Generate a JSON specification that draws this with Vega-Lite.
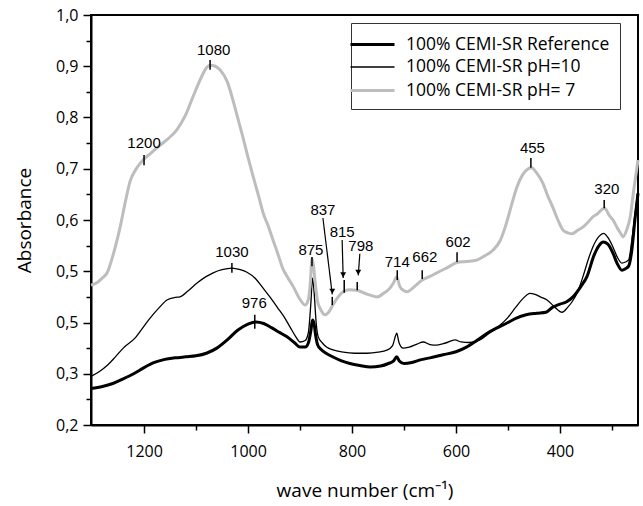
{
  "$schema": "https://vega.github.io/schema/vega-lite/v6.json",
  "width": 547,
  "height": 410,
  "autosize": {"type": "none"},
  "padding": {"left": 91, "top": 15, "right": 5, "bottom": 81},
  "background": "white",
  "config": {
    "view": {"stroke": "black", "strokeWidth": 2},
    "axis": {"grid": false, "domainColor": "black", "domainWidth": 2, "tickColor": "black", "tickWidth": 1.5, "labelColor": "black", "titleColor": "black", "labelFont": "Open Sans", "titleFont": "Open Sans", "labelFontSize": 16, "titleFontSize": 19, "titleFontWeight": "normal"},
    "legend": {"symbolType": "M-2.2,0H2.2", "symbolSize": 400, "labelFont": "Open Sans", "labelFontSize": 17.5, "labelColor": "black", "strokeColor": "#333333", "padding": 10, "rowPadding": 3, "labelOffset": 22, "labelLimit": 400, "fillColor": "white"}
  },
  "datasets": {
    "spectra": [
      {"wn": 1302, "abs": 0.271, "s": "ref"}, {"wn": 1280, "abs": 0.275, "s": "ref"}, {"wn": 1260, "abs": 0.281, "s": "ref"}, {"wn": 1240, "abs": 0.29, "s": "ref"}, {"wn": 1220, "abs": 0.3, "s": "ref"}, {"wn": 1200, "abs": 0.312, "s": "ref"}, {"wn": 1180, "abs": 0.322, "s": "ref"}, {"wn": 1160, "abs": 0.328, "s": "ref"}, {"wn": 1140, "abs": 0.331, "s": "ref"}, {"wn": 1120, "abs": 0.333, "s": "ref"}, {"wn": 1100, "abs": 0.335, "s": "ref"}, {"wn": 1080, "abs": 0.34, "s": "ref"}, {"wn": 1060, "abs": 0.35, "s": "ref"}, {"wn": 1040, "abs": 0.366, "s": "ref"}, {"wn": 1020, "abs": 0.385, "s": "ref"}, {"wn": 1000, "abs": 0.397, "s": "ref"}, {"wn": 985, "abs": 0.401, "s": "ref"}, {"wn": 970, "abs": 0.398, "s": "ref"}, {"wn": 955, "abs": 0.39, "s": "ref"}, {"wn": 940, "abs": 0.381, "s": "ref"}, {"wn": 925, "abs": 0.372, "s": "ref"}, {"wn": 910, "abs": 0.36, "s": "ref"}, {"wn": 900, "abs": 0.352, "s": "ref"}, {"wn": 890, "abs": 0.352, "s": "ref"}, {"wn": 884, "abs": 0.36, "s": "ref"}, {"wn": 879, "abs": 0.385, "s": "ref"}, {"wn": 876, "abs": 0.405, "s": "ref"}, {"wn": 873, "abs": 0.398, "s": "ref"}, {"wn": 870, "abs": 0.375, "s": "ref"}, {"wn": 866, "abs": 0.356, "s": "ref"}, {"wn": 860, "abs": 0.348, "s": "ref"}, {"wn": 850, "abs": 0.34, "s": "ref"}, {"wn": 837, "abs": 0.333, "s": "ref"}, {"wn": 820, "abs": 0.325, "s": "ref"}, {"wn": 804, "abs": 0.32, "s": "ref"}, {"wn": 785, "abs": 0.316, "s": "ref"}, {"wn": 765, "abs": 0.313, "s": "ref"}, {"wn": 745, "abs": 0.315, "s": "ref"}, {"wn": 730, "abs": 0.32, "s": "ref"}, {"wn": 720, "abs": 0.325, "s": "ref"}, {"wn": 714, "abs": 0.333, "s": "ref"}, {"wn": 709, "abs": 0.325, "s": "ref"}, {"wn": 700, "abs": 0.32, "s": "ref"}, {"wn": 685, "abs": 0.322, "s": "ref"}, {"wn": 669, "abs": 0.327, "s": "ref"}, {"wn": 650, "abs": 0.331, "s": "ref"}, {"wn": 625, "abs": 0.337, "s": "ref"}, {"wn": 600, "abs": 0.343, "s": "ref"}, {"wn": 580, "abs": 0.352, "s": "ref"}, {"wn": 560, "abs": 0.365, "s": "ref"}, {"wn": 540, "abs": 0.379, "s": "ref"}, {"wn": 520, "abs": 0.39, "s": "ref"}, {"wn": 502, "abs": 0.399, "s": "ref"}, {"wn": 485, "abs": 0.408, "s": "ref"}, {"wn": 465, "abs": 0.415, "s": "ref"}, {"wn": 445, "abs": 0.418, "s": "ref"}, {"wn": 427, "abs": 0.42, "s": "ref"}, {"wn": 414, "abs": 0.43, "s": "ref"}, {"wn": 400, "abs": 0.436, "s": "ref"}, {"wn": 388, "abs": 0.44, "s": "ref"}, {"wn": 375, "abs": 0.45, "s": "ref"}, {"wn": 360, "abs": 0.47, "s": "ref"}, {"wn": 348, "abs": 0.49, "s": "ref"}, {"wn": 335, "abs": 0.53, "s": "ref"}, {"wn": 325, "abs": 0.55, "s": "ref"}, {"wn": 317, "abs": 0.557, "s": "ref"}, {"wn": 308, "abs": 0.553, "s": "ref"}, {"wn": 298, "abs": 0.535, "s": "ref"}, {"wn": 290, "abs": 0.515, "s": "ref"}, {"wn": 281, "abs": 0.502, "s": "ref"}, {"wn": 274, "abs": 0.505, "s": "ref"}, {"wn": 268, "abs": 0.51, "s": "ref"}, {"wn": 262, "abs": 0.54, "s": "ref"}, {"wn": 256, "abs": 0.6, "s": "ref"}, {"wn": 250, "abs": 0.652, "s": "ref"},
      {"wn": 1302, "abs": 0.295, "s": "ph10"}, {"wn": 1285, "abs": 0.305, "s": "ph10"}, {"wn": 1270, "abs": 0.317, "s": "ph10"}, {"wn": 1255, "abs": 0.333, "s": "ph10"}, {"wn": 1240, "abs": 0.35, "s": "ph10"}, {"wn": 1217, "abs": 0.37, "s": "ph10"}, {"wn": 1200, "abs": 0.393, "s": "ph10"}, {"wn": 1188, "abs": 0.409, "s": "ph10"}, {"wn": 1170, "abs": 0.43, "s": "ph10"}, {"wn": 1156, "abs": 0.444, "s": "ph10"}, {"wn": 1140, "abs": 0.449, "s": "ph10"}, {"wn": 1131, "abs": 0.45, "s": "ph10"}, {"wn": 1115, "abs": 0.462, "s": "ph10"}, {"wn": 1098, "abs": 0.477, "s": "ph10"}, {"wn": 1080, "abs": 0.49, "s": "ph10"}, {"wn": 1067, "abs": 0.497, "s": "ph10"}, {"wn": 1050, "abs": 0.503, "s": "ph10"}, {"wn": 1031, "abs": 0.506, "s": "ph10"}, {"wn": 1015, "abs": 0.503, "s": "ph10"}, {"wn": 1002, "abs": 0.498, "s": "ph10"}, {"wn": 985, "abs": 0.485, "s": "ph10"}, {"wn": 971, "abs": 0.467, "s": "ph10"}, {"wn": 958, "abs": 0.45, "s": "ph10"}, {"wn": 944, "abs": 0.43, "s": "ph10"}, {"wn": 930, "abs": 0.41, "s": "ph10"}, {"wn": 919, "abs": 0.391, "s": "ph10"}, {"wn": 908, "abs": 0.372, "s": "ph10"}, {"wn": 900, "abs": 0.362, "s": "ph10"}, {"wn": 890, "abs": 0.365, "s": "ph10"}, {"wn": 884, "abs": 0.38, "s": "ph10"}, {"wn": 879, "abs": 0.44, "s": "ph10"}, {"wn": 876, "abs": 0.487, "s": "ph10"}, {"wn": 873, "abs": 0.46, "s": "ph10"}, {"wn": 869, "abs": 0.4, "s": "ph10"}, {"wn": 865, "abs": 0.372, "s": "ph10"}, {"wn": 857, "abs": 0.36, "s": "ph10"}, {"wn": 849, "abs": 0.352, "s": "ph10"}, {"wn": 835, "abs": 0.346, "s": "ph10"}, {"wn": 817, "abs": 0.342, "s": "ph10"}, {"wn": 795, "abs": 0.34, "s": "ph10"}, {"wn": 771, "abs": 0.34, "s": "ph10"}, {"wn": 750, "abs": 0.342, "s": "ph10"}, {"wn": 733, "abs": 0.346, "s": "ph10"}, {"wn": 722, "abs": 0.355, "s": "ph10"}, {"wn": 716, "abs": 0.375, "s": "ph10"}, {"wn": 714, "abs": 0.379, "s": "ph10"}, {"wn": 710, "abs": 0.362, "s": "ph10"}, {"wn": 702, "abs": 0.35, "s": "ph10"}, {"wn": 690, "abs": 0.352, "s": "ph10"}, {"wn": 675, "abs": 0.358, "s": "ph10"}, {"wn": 663, "abs": 0.362, "s": "ph10"}, {"wn": 650, "abs": 0.357, "s": "ph10"}, {"wn": 637, "abs": 0.356, "s": "ph10"}, {"wn": 620, "abs": 0.36, "s": "ph10"}, {"wn": 602, "abs": 0.366, "s": "ph10"}, {"wn": 590, "abs": 0.362, "s": "ph10"}, {"wn": 575, "abs": 0.361, "s": "ph10"}, {"wn": 554, "abs": 0.366, "s": "ph10"}, {"wn": 535, "abs": 0.38, "s": "ph10"}, {"wn": 515, "abs": 0.395, "s": "ph10"}, {"wn": 500, "abs": 0.41, "s": "ph10"}, {"wn": 485, "abs": 0.43, "s": "ph10"}, {"wn": 470, "abs": 0.448, "s": "ph10"}, {"wn": 458, "abs": 0.457, "s": "ph10"}, {"wn": 448, "abs": 0.455, "s": "ph10"}, {"wn": 438, "abs": 0.45, "s": "ph10"}, {"wn": 425, "abs": 0.444, "s": "ph10"}, {"wn": 410, "abs": 0.43, "s": "ph10"}, {"wn": 396, "abs": 0.42, "s": "ph10"}, {"wn": 385, "abs": 0.43, "s": "ph10"}, {"wn": 377, "abs": 0.44, "s": "ph10"}, {"wn": 366, "abs": 0.46, "s": "ph10"}, {"wn": 356, "abs": 0.489, "s": "ph10"}, {"wn": 345, "abs": 0.525, "s": "ph10"}, {"wn": 337, "abs": 0.547, "s": "ph10"}, {"wn": 325, "abs": 0.568, "s": "ph10"}, {"wn": 316, "abs": 0.574, "s": "ph10"}, {"wn": 308, "abs": 0.566, "s": "ph10"}, {"wn": 298, "abs": 0.547, "s": "ph10"}, {"wn": 290, "abs": 0.528, "s": "ph10"}, {"wn": 281, "abs": 0.516, "s": "ph10"}, {"wn": 274, "abs": 0.518, "s": "ph10"}, {"wn": 268, "abs": 0.522, "s": "ph10"}, {"wn": 262, "abs": 0.56, "s": "ph10"}, {"wn": 256, "abs": 0.61, "s": "ph10"}, {"wn": 250, "abs": 0.66, "s": "ph10"},
      {"wn": 1302, "abs": 0.473, "s": "ph7"}, {"wn": 1290, "abs": 0.478, "s": "ph7"}, {"wn": 1280, "abs": 0.487, "s": "ph7"}, {"wn": 1271, "abs": 0.497, "s": "ph7"}, {"wn": 1260, "abs": 0.53, "s": "ph7"}, {"wn": 1246, "abs": 0.586, "s": "ph7"}, {"wn": 1235, "abs": 0.64, "s": "ph7"}, {"wn": 1227, "abs": 0.675, "s": "ph7"}, {"wn": 1215, "abs": 0.7, "s": "ph7"}, {"wn": 1202, "abs": 0.717, "s": "ph7"}, {"wn": 1185, "abs": 0.732, "s": "ph7"}, {"wn": 1169, "abs": 0.746, "s": "ph7"}, {"wn": 1150, "abs": 0.762, "s": "ph7"}, {"wn": 1137, "abs": 0.776, "s": "ph7"}, {"wn": 1120, "abs": 0.805, "s": "ph7"}, {"wn": 1106, "abs": 0.84, "s": "ph7"}, {"wn": 1090, "abs": 0.878, "s": "ph7"}, {"wn": 1080, "abs": 0.897, "s": "ph7"}, {"wn": 1073, "abs": 0.902, "s": "ph7"}, {"wn": 1063, "abs": 0.9, "s": "ph7"}, {"wn": 1054, "abs": 0.893, "s": "ph7"}, {"wn": 1040, "abs": 0.87, "s": "ph7"}, {"wn": 1029, "abs": 0.834, "s": "ph7"}, {"wn": 1020, "abs": 0.8, "s": "ph7"}, {"wn": 1010, "abs": 0.762, "s": "ph7"}, {"wn": 1000, "abs": 0.722, "s": "ph7"}, {"wn": 990, "abs": 0.684, "s": "ph7"}, {"wn": 980, "abs": 0.648, "s": "ph7"}, {"wn": 971, "abs": 0.614, "s": "ph7"}, {"wn": 960, "abs": 0.585, "s": "ph7"}, {"wn": 952, "abs": 0.561, "s": "ph7"}, {"wn": 943, "abs": 0.535, "s": "ph7"}, {"wn": 933, "abs": 0.505, "s": "ph7"}, {"wn": 922, "abs": 0.485, "s": "ph7"}, {"wn": 913, "abs": 0.47, "s": "ph7"}, {"wn": 900, "abs": 0.445, "s": "ph7"}, {"wn": 890, "abs": 0.434, "s": "ph7"}, {"wn": 884, "abs": 0.445, "s": "ph7"}, {"wn": 880, "abs": 0.48, "s": "ph7"}, {"wn": 877, "abs": 0.525, "s": "ph7"}, {"wn": 874, "abs": 0.51, "s": "ph7"}, {"wn": 870, "abs": 0.47, "s": "ph7"}, {"wn": 866, "abs": 0.44, "s": "ph7"}, {"wn": 860, "abs": 0.425, "s": "ph7"}, {"wn": 852, "abs": 0.415, "s": "ph7"}, {"wn": 845, "abs": 0.42, "s": "ph7"}, {"wn": 837, "abs": 0.434, "s": "ph7"}, {"wn": 828, "abs": 0.448, "s": "ph7"}, {"wn": 817, "abs": 0.46, "s": "ph7"}, {"wn": 805, "abs": 0.464, "s": "ph7"}, {"wn": 791, "abs": 0.463, "s": "ph7"}, {"wn": 770, "abs": 0.455, "s": "ph7"}, {"wn": 752, "abs": 0.45, "s": "ph7"}, {"wn": 738, "abs": 0.458, "s": "ph7"}, {"wn": 727, "abs": 0.467, "s": "ph7"}, {"wn": 720, "abs": 0.478, "s": "ph7"}, {"wn": 714, "abs": 0.489, "s": "ph7"}, {"wn": 708, "abs": 0.47, "s": "ph7"}, {"wn": 700, "abs": 0.462, "s": "ph7"}, {"wn": 694, "abs": 0.46, "s": "ph7"}, {"wn": 680, "abs": 0.47, "s": "ph7"}, {"wn": 665, "abs": 0.483, "s": "ph7"}, {"wn": 650, "abs": 0.49, "s": "ph7"}, {"wn": 631, "abs": 0.5, "s": "ph7"}, {"wn": 615, "abs": 0.508, "s": "ph7"}, {"wn": 598, "abs": 0.517, "s": "ph7"}, {"wn": 580, "abs": 0.519, "s": "ph7"}, {"wn": 560, "abs": 0.522, "s": "ph7"}, {"wn": 545, "abs": 0.53, "s": "ph7"}, {"wn": 529, "abs": 0.541, "s": "ph7"}, {"wn": 515, "abs": 0.56, "s": "ph7"}, {"wn": 503, "abs": 0.594, "s": "ph7"}, {"wn": 493, "abs": 0.63, "s": "ph7"}, {"wn": 483, "abs": 0.664, "s": "ph7"}, {"wn": 472, "abs": 0.688, "s": "ph7"}, {"wn": 464, "abs": 0.698, "s": "ph7"}, {"wn": 455, "abs": 0.702, "s": "ph7"}, {"wn": 445, "abs": 0.692, "s": "ph7"}, {"wn": 433, "abs": 0.672, "s": "ph7"}, {"wn": 424, "abs": 0.648, "s": "ph7"}, {"wn": 414, "abs": 0.625, "s": "ph7"}, {"wn": 404, "abs": 0.6, "s": "ph7"}, {"wn": 394, "abs": 0.58, "s": "ph7"}, {"wn": 385, "abs": 0.575, "s": "ph7"}, {"wn": 377, "abs": 0.573, "s": "ph7"}, {"wn": 366, "abs": 0.58, "s": "ph7"}, {"wn": 356, "abs": 0.586, "s": "ph7"}, {"wn": 345, "abs": 0.597, "s": "ph7"}, {"wn": 337, "abs": 0.606, "s": "ph7"}, {"wn": 328, "abs": 0.612, "s": "ph7"}, {"wn": 320, "abs": 0.62, "s": "ph7"}, {"wn": 314, "abs": 0.623, "s": "ph7"}, {"wn": 306, "abs": 0.61, "s": "ph7"}, {"wn": 298, "abs": 0.6, "s": "ph7"}, {"wn": 290, "abs": 0.585, "s": "ph7"}, {"wn": 284, "abs": 0.575, "s": "ph7"}, {"wn": 279, "abs": 0.567, "s": "ph7"}, {"wn": 272, "abs": 0.58, "s": "ph7"}, {"wn": 265, "abs": 0.606, "s": "ph7"}, {"wn": 258, "abs": 0.66, "s": "ph7"}, {"wn": 250, "abs": 0.717, "s": "ph7"}
    ],
    "ticks": [
      {"wn": 1200, "abs": 0.707, "abs2": 0.727},
      {"wn": 1073, "abs": 0.893, "abs2": 0.912},
      {"wn": 1031, "abs": 0.497, "abs2": 0.516},
      {"wn": 987, "abs": 0.388, "abs2": 0.415},
      {"wn": 877, "abs": 0.51, "abs2": 0.528},
      {"wn": 838, "abs": 0.434, "abs2": 0.45},
      {"wn": 815, "abs": 0.458, "abs2": 0.483},
      {"wn": 790, "abs": 0.463, "abs2": 0.479},
      {"wn": 713, "abs": 0.483, "abs2": 0.502},
      {"wn": 665, "abs": 0.485, "abs2": 0.502},
      {"wn": 598, "abs": 0.518, "abs2": 0.537},
      {"wn": 456, "abs": 0.702, "abs2": 0.721},
      {"wn": 315, "abs": 0.623, "abs2": 0.639}
    ],
    "labels": [
      {"wn": 1200, "abs": 0.75, "t": "1200"},
      {"wn": 1066, "abs": 0.932, "t": "1080"},
      {"wn": 1031, "abs": 0.538, "t": "1030"},
      {"wn": 988, "abs": 0.438, "t": "976"},
      {"wn": 879, "abs": 0.541, "t": "875"},
      {"wn": 856, "abs": 0.62, "t": "837"},
      {"wn": 819, "abs": 0.577, "t": "815"},
      {"wn": 783, "abs": 0.549, "t": "798"},
      {"wn": 713, "abs": 0.518, "t": "714"},
      {"wn": 660, "abs": 0.528, "t": "662"},
      {"wn": 596, "abs": 0.557, "t": "602"},
      {"wn": 453, "abs": 0.74, "t": "455"},
      {"wn": 310, "abs": 0.66, "t": "320"}
    ],
    "arrows": [
      {"wn": 838, "abs": 0.455, "wn2": 856, "abs2": 0.604},
      {"wn": 817, "abs": 0.487, "wn2": 819, "abs2": 0.561},
      {"wn": 788, "abs": 0.492, "wn2": 785, "abs2": 0.534}
    ]
  },
  "encoding": {
    "x": {"field": "wn", "type": "quantitative",
      "scale": {"domain": [250, 1302], "reverse": true, "nice": false, "zero": false},
      "axis": {"title": "wave number (cm⁻¹)", "values": [1200, 1100, 1000, 900, 800, 700, 600, 500, 400, 300],
        "labelExpr": "datum.value % 200 === 0 ? datum.value : ''",
        "tickSize": {"condition": {"test": "datum.value % 200 === 0", "value": 8}, "value": 5},
        "labelPadding": 10, "titlePadding": 22}},
    "y": {"field": "abs", "type": "quantitative",
      "scale": {"domain": [0.2, 1.0], "nice": false, "zero": false},
      "axis": {"title": "Absorbance", "values": [0.2, 0.25, 0.3, 0.35, 0.4, 0.45, 0.5, 0.55, 0.6, 0.65, 0.7, 0.75, 0.8, 0.85, 0.9, 0.95, 1.0],
        "labelExpr": "abs(datum.value*10 - round(datum.value*10)) > 0.01 ? '' : (abs(datum.value - 0.4) < 0.001 ? '0,5' : replace(format(datum.value, '.1f'), '.', ','))",
        "tickSize": {"condition": {"test": "abs(datum.value*10 - round(datum.value*10)) < 0.01", "value": 8}, "value": 5},
        "labelPadding": 5, "titlePadding": 21}}
  },
  "layer": [
    {
      "data": {"name": "spectra"},
      "mark": {"type": "line", "interpolate": "monotone"},
      "encoding": {
        "color": {"field": "s", "type": "nominal",
          "scale": {"domain": ["ref", "ph10", "ph7"], "range": ["#000000", "#000000", "#bdbdbd"]},
          "legend": {"title": null, "orient": "none", "legendX": 260, "legendY": 8,
            "labelExpr": "{'ref': '100% CEMI-SR Reference\u00a0\u00a0\u00a0\u00a0\u00a0\u00a0', 'ph10': '100% CEMI-SR pH=10', 'ph7': '100% CEMI-SR pH= 7'}[datum.label]"}},
        "strokeWidth": {"field": "s", "type": "nominal",
          "scale": {"type": "ordinal", "domain": ["ref", "ph10", "ph7"], "range": [3, 1.3, 3]},
          "legend": {"title": null, "orient": "none", "legendX": 260, "legendY": 8,
            "labelExpr": "{'ref': '100% CEMI-SR Reference\u00a0\u00a0\u00a0\u00a0\u00a0\u00a0', 'ph10': '100% CEMI-SR pH=10', 'ph7': '100% CEMI-SR pH= 7'}[datum.label]"}}
      }
    },
    {
      "data": {"name": "ticks"},
      "mark": {"type": "rule", "color": "black", "strokeWidth": 1.5},
      "encoding": {"y2": {"field": "abs2"}}
    },
    {
      "data": {"name": "labels"},
      "mark": {"type": "text", "font": "Liberation Sans", "fontSize": 15, "color": "black", "baseline": "middle", "align": "center"},
      "encoding": {"text": {"field": "t", "type": "nominal"}}
    },
    {
      "data": {"name": "arrows"},
      "mark": {"type": "rule", "color": "black", "strokeWidth": 1.2},
      "encoding": {"x2": {"field": "wn2"}, "y2": {"field": "abs2"}}
    },
    {
      "data": {"name": "arrows"},
      "mark": {"type": "point", "shape": "triangle-down", "filled": true, "color": "black", "size": 35, "opacity": 1, "yOffset": -3},
      "encoding": {}
    }
  ]
}
